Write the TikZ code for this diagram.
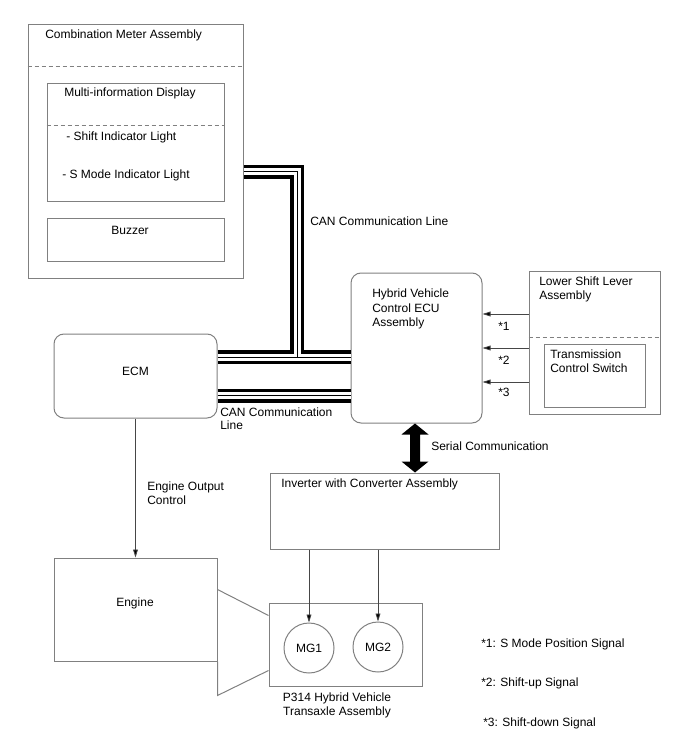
\documentclass[tikz,border=0pt]{standalone}
\usepackage{fontspec}
\setmainfont{Liberation Sans}
\usetikzlibrary{arrows.meta,fit,calc}
\definecolor{bordergray}{RGB}{128,128,128}
\definecolor{linegray}{RGB}{70,70,70}
\begin{document}
\begin{tikzpicture}[x=0.75pt,y=-0.75pt,
  box/.style={draw=bordergray, line width=0.75pt, inner sep=0pt},
  rbox/.style={box, rounded corners=7.5pt},
  lbl/.style={anchor=base west, inner sep=0pt, font=\fontsize{9pt}{11pt}\selectfont},
  clbl/.style={anchor=base, inner sep=0pt, font=\fontsize{9pt}{11pt}\selectfont},
  sepline/.style={draw=bordergray, line width=0.75pt, dash pattern=on 3pt off 2.25pt},
  outline/.style={draw=bordergray, line width=0.75pt},
  arr/.style={draw=linegray, line width=0.6pt, -{Triangle[length=6pt,width=3.6pt,fill=black]}},
  mg/.style={circle, draw=bordergray, line width=0.75pt, minimum size=37.5pt, inner sep=0pt, font=\fontsize{9pt}{11pt}\selectfont}
]
\useasboundingbox (0,0) rectangle (688,755);

% ---------- boxes ----------
\node[box, fit={(28,25)(243,278)}] (cm) {};
\node[box, fit={(47,84)(224,202)}] (mid) {};
\node[box, fit={(47,219)(224,261)}] (buz) {};
\node[rbox, fit={(54,334)(217,418)}] (ecm) {};
\node[rbox, fit={(351,273)(482,423)}] (hv) {};
\node[box, fit={(529,271)(660,414)}] (lsl) {};
\node[box, fit={(544,344)(645,407)}] (tcs) {};
\node[box, fit={(270,473)(499,549)}] (inv) {};
\node[box, fit={(54,558)(217,661)}] (eng) {};
\node[box, fit={(269,603)(422,686)}] (tx) {};
\node[mg] (mg1) at (309,648) {MG1};
\node[mg] (mg2) at (378,647) {MG2};

% dashed separators
\draw[sepline] ($(cm.north west)+(0,42)$) -- ($(cm.north east)+(0,42)$);
\draw[sepline] ($(mid.north west)+(0,42)$) -- ($(mid.north east)+(0,42)$);
\draw[sepline] ($(lsl.north west)+(0,67)$) -- ($(lsl.north east)+(0,67)$);

% trapezoid between engine and transaxle
\draw[outline] ($(eng.north east)+(0,32)$) -- ($(tx.north west)+(0,13)$);
\draw[outline] (eng.south east) -- ($(eng.south east)+(0,34)$) -- ($(tx.south west)+(0,-16)$);

% ---------- texts ----------
\node[lbl] (tcm) at (45,39) {Combination Meter Assembly};
\node[lbl] (tmid) at (64,97) {Multi-information Display};
\node[lbl] (tsil) at (66,141) {- Shift Indicator Light};
\node[lbl] (tsml) at (62,179) {- S Mode Indicator Light};
\node[clbl] (tbuz) at (130,234) {Buzzer};
\node[clbl] (tecm) at (135.5,375) {ECM};
\node[lbl] (thv1) at (372,297) {Hybrid Vehicle};
\node[lbl] (thv2) at (372,312) {Control ECU};
\node[lbl] (thv3) at (372,326) {Assembly};
\node[lbl] (tlsl1) at (539,285) {Lower Shift Lever};
\node[lbl] (tlsl2) at (539,299) {Assembly};
\node[lbl] (ttcs1) at (550,358) {Transmission};
\node[lbl] (ttcs2) at (550,372) {Control Switch};
\node[lbl] (tinv) at (281,487) {Inverter with Converter Assembly};
\node[clbl] (teng) at (135,606) {Engine};
\node[clbl] (ttx1) at (337,701) {P314 Hybrid Vehicle};
\node[clbl] (ttx2) at (337,715) {Transaxle Assembly};
\node[lbl] (tcan1) at (310,226) {CAN Communication Line};
\node[lbl] (tcan2a) at (220,416) {CAN Communication};
\node[lbl] (tcan2b) at (220,429) {Line};
\node[lbl] (tser) at (431,450) {Serial Communication};
\node[lbl] (teoc1) at (147,490) {Engine Output};
\node[lbl] (teoc2) at (147,504) {Control};
\node[lbl] (ts1) at (498,330) {*1};
\node[lbl] (ts2) at (498,364) {*2};
\node[lbl] (ts3) at (498,396) {*3};
\node[lbl] (fn1) at (481,647) {*1: S Mode Position Signal};
\node[lbl] (fn2) at (481,686) {*2: Shift-up Signal};
\node[lbl] (fn3) at (483,726) {*3: Shift-down Signal};

% ---------- CAN cables ----------
\coordinate (ja) at (297,172);
\coordinate (jb) at (297,357);
\coordinate (jc) at (297,395.5);
\foreach \w/\c in {10.5pt/black, 5.25pt/white, 0.75pt/black}{
  \draw[line width=\w, \c] (cm.east |- ja) -- (ja) -- (jb) -- (hv.west |- jb);
  \draw[line width=\w, \c] (ecm.east |- jb) -- (jb);
  \draw[line width=\w, \c] (ecm.east |- jc) -- (hv.west |- jc);
}

% ---------- signal arrows ----------
\coordinate (s1) at (0,314);
\coordinate (s2) at (0,348);
\coordinate (s3) at (0,382);
\draw[arr] (lsl.west |- s1) -- (hv.east |- s1);
\draw[arr] (lsl.west |- s2) -- (hv.east |- s2);
\draw[arr] (lsl.west |- s3) -- (hv.east |- s3);
\draw[arr] (ecm.south) -- (eng.north);
\draw[arr] (inv.south -| mg1.north) -- (mg1.north);
\draw[arr] (inv.south -| mg2.north) -- (mg2.north);

% ---------- serial double arrow ----------
\coordinate (sx) at (415,0);
\coordinate (st) at (hv.south -| sx);
\coordinate (sb) at (inv.north -| sx);
\fill[black] (st) -- ++(13.5,11) -- ++(-8.5,0) -- ($(sb)+(5,-11)$) -- ++(8.5,0) -- (sb)
  -- ++(-13.5,-11) -- ++(8.5,0) -- ($(st)+(-5,11)$) -- ++(-8.5,0) -- cycle;
\end{tikzpicture}
\end{document}
